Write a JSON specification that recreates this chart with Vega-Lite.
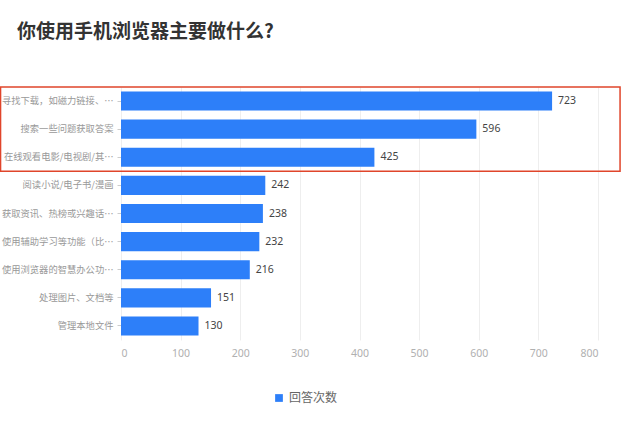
{
  "$schema": "https://vega.github.io/schema/vega-lite/v6.json",
  "autosize": {"type": "none"},
  "padding": {"left": 121, "top": 87, "right": 42, "bottom": 90},
  "width": 477,
  "height": 253,
  "background": "white",
  "title": {
    "text": "你使用手机浏览器主要做什么?",
    "anchor": "start",
    "frame": "group",
    "dx": -104,
    "offset": 44,
    "font": "Noto Sans CJK SC",
    "fontSize": 19,
    "fontWeight": "bold",
    "color": "#333333"
  },
  "datasets": {
    "answers": [
      {"item": "寻找下载，如磁力链接、…", "count": 723, "series": "回答次数"},
      {"item": "搜索一些问题获取答案", "count": 596, "series": "回答次数"},
      {"item": "在线观看电影/电视剧/其…", "count": 425, "series": "回答次数"},
      {"item": "阅读小说/电子书/漫画", "count": 242, "series": "回答次数"},
      {"item": "获取资讯、热榜或兴趣话…", "count": 238, "series": "回答次数"},
      {"item": "使用辅助学习等功能（比…", "count": 232, "series": "回答次数"},
      {"item": "使用浏览器的智慧办公功…", "count": 216, "series": "回答次数"},
      {"item": "处理图片、文档等", "count": 151, "series": "回答次数"},
      {"item": "管理本地文件", "count": 130, "series": "回答次数"}
    ],
    "highlight": [
      {"from": "寻找下载，如磁力链接、…", "to": "在线观看电影/电视剧/其…", "left": -202, "right": 837}
    ]
  },
  "layer": [
    {
      "data": {"name": "answers"},
      "mark": {"type": "bar", "height": {"band": 0.68}},
      "encoding": {
        "y": {
          "field": "item",
          "type": "nominal",
          "sort": null,
          "scale": {"paddingInner": 0, "paddingOuter": 0},
          "axis": {
            "title": null,
            "domain": false,
            "tickColor": "#cccccc",
            "tickSize": 4,
            "labelPadding": 4,
            "labelColor": "#999999",
            "labelFont": "Noto Sans CJK SC",
            "labelFontSize": 9.3,
            "labelLimit": 112
          }
        },
        "x": {
          "field": "count",
          "type": "quantitative",
          "scale": {"domain": [0, 800], "nice": false},
          "axis": {
            "title": null,
            "values": [0, 100, 200, 300, 400, 500, 600, 700, 800],
            "domain": false,
            "ticks": false,
            "labelPadding": 8,
            "labelColor": "#b0b0b0",
            "labelFont": "Noto Sans",
            "labelFontSize": 10.5,
            "gridColor": "#eeeeee"
          }
        },
        "color": {
          "field": "series",
          "type": "nominal",
          "scale": {"range": ["#2d7ff9"]},
          "legend": {
            "title": null,
            "orient": "none",
            "legendX": 152,
            "legendY": 305,
            "symbolType": "square",
            "symbolSize": 60,
            "labelColor": "#666666",
            "labelFont": "Noto Sans CJK SC",
            "labelFontSize": 12
          }
        }
      }
    },
    {
      "data": {"name": "answers"},
      "mark": {"type": "text", "align": "left", "baseline": "middle", "dx": 6, "font": "Noto Sans", "fontSize": 10.5, "color": "#444444"},
      "encoding": {
        "y": {"field": "item", "type": "nominal", "sort": null},
        "x": {"field": "count", "type": "quantitative"},
        "text": {"field": "count", "type": "quantitative"}
      }
    },
    {
      "data": {"name": "highlight"},
      "mark": {"type": "rect", "fill": null, "stroke": "#e0452b", "strokeWidth": 1.5, "clip": false},
      "encoding": {
        "y": {"field": "from", "type": "nominal", "sort": null, "bandPosition": 0},
        "y2": {"field": "to", "bandPosition": 1},
        "x": {"field": "left", "type": "quantitative"},
        "x2": {"field": "right"}
      }
    }
  ],
  "config": {
    "view": {"stroke": null}
  }
}
